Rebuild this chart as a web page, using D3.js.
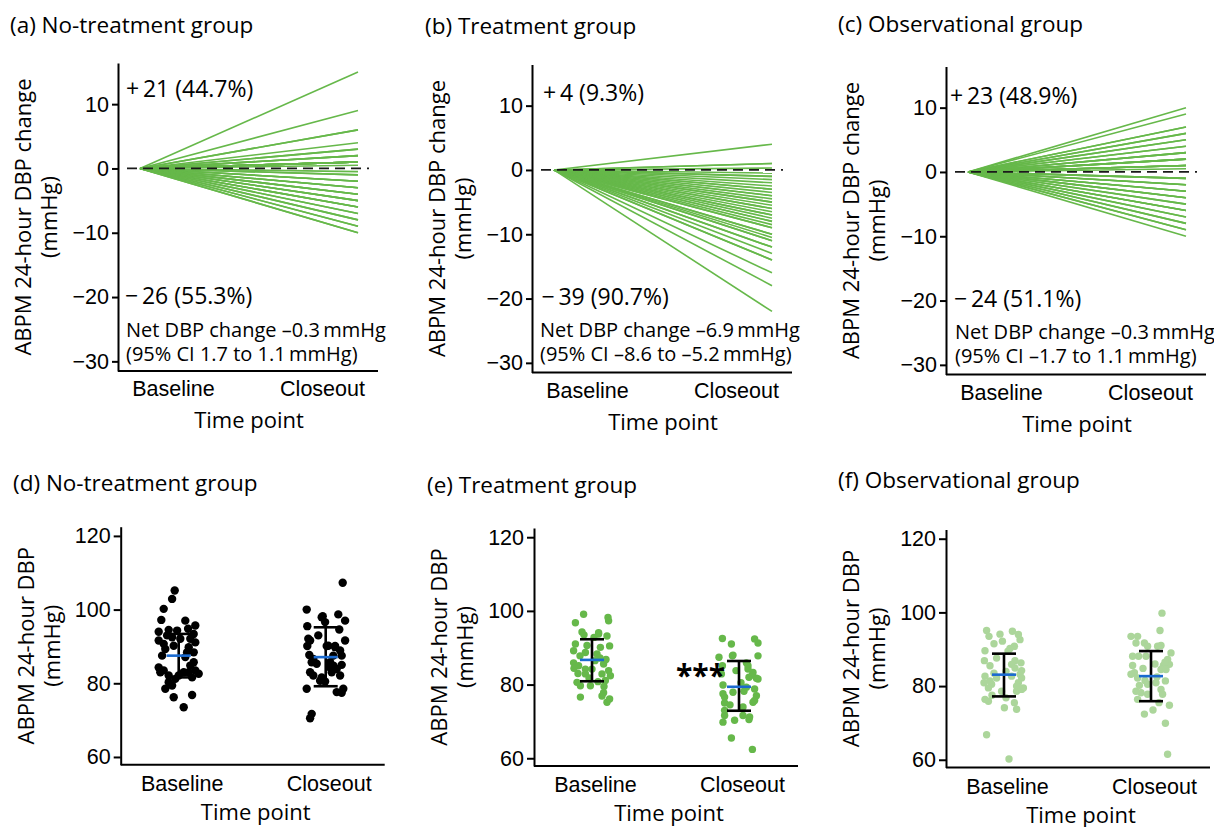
<!DOCTYPE html>
<html>
<head>
<meta charset="utf-8">
<script src="https://cdn.jsdelivr.net/npm/d3@7"></script>
<style>
  body { margin: 0; background: #fff; }
  svg { font-family: "Open Sans", sans-serif; }
</style>
</head>
<body>
<svg width="1214" height="827"></svg>
<script>
// ---- data ----
const timePoints = ["Baseline", "Closeout"];
const changeTicks = [-30, -20, -10, 0, 10];
const dbpTicks = [60, 80, 100, 120];

// (a)-(c): change in 24-hour DBP per patient (mmHg)
const changeNoTreat = [15, 9, 6, 6, 4, 3, 3, 2, 2, 2, 1, 1, 1, 1, 1, 1, 1, 1, 1, 1, 0.5,
  -0.5, -1, -1, -2, -2, -2, -3, -3, -3, -4, -4, -4, -5, -5, -5, -6, -6, -6, -7, -7, -8, -8, -9, -9, -10, -10];
const changeTreat = [4, 1, 1, 0.3,
  -0.5, -1, -1, -1.5, -2, -2.5, -3, -3, -3.5, -4, -4, -4.5, -5, -5, -5.5, -6, -6, -6.5, -7, -7,
  -7.5, -8, -8, -8.5, -9, -9, -10, -10, -10.5, -11, -11, -12, -12, -13, -14, -14, -16, -18, -22];
const changeObs = [10, 9, 7, 7, 6, 6, 5, 5, 4, 4, 3, 3, 3, 2, 2, 2, 2, 1, 1, 1, 1, 1, 0.5,
  -1, -1, -1, -2, -2, -2, -3, -3, -3, -4, -4, -4, -5, -5, -6, -6, -6, -7, -7, -8, -8, -9, -9, -10];

// (d)-(f): individual 24-hour DBP (mmHg) and horizontal jitter (-1..1)
const baseNoTreat = [105.2, 102.9, 100.2, 97.2, 97.0, 95.7, 94.0, 94.5, 94.3, 94.8, 93.4, 91.6, 90.7, 92.5, 90.2,
  92.1, 92.1, 91.1, 89.8, 87.5, 87.1, 85.7, 84.3, 83.0, 83.5, 83.5, 82.6, 83.0, 83.0, 81.2, 80.3, 78.5, 79.4,
  76.2, 76.8, 73.5, 82.1, 84.8, 88.4, 88.4, 89.3, 81.6, 82.1, 93.0];
const baseNoTreatJit = [-0.2, -0.33, -0.75, -0.87, 0.33, 0.83, -1, -0.5, -0.08, 0.47, 0.75, -1, -0.75, -0.33, -0.25,
  0.08, 0.58, 0.83, 0.5, -0.83, 0.33, 0.75, -1, -0.92, -0.75, 0.83, 1, 0.5, 0.25, -0.17, -0.5, -0.67, -0.33,
  -0.25, 0.67, 0.25, -0.5, 0.58, 0.42, 0.75, -0.67, 0.67, 0, -0.58];
const closeNoTreat = [107.3, 100.0, 98.2, 98.7, 97.0, 96.6, 95.5, 94.6, 92.1, 91.6, 90.1, 90.1, 90.1, 88.9, 87.7,
  87.5, 87.5, 85.7, 85.3, 85.7, 85.0, 83.0, 82.1, 83.0, 82.1, 80.7, 80.5, 78.5, 77.6, 78.5, 77.4, 71.7, 70.5,
  84.3, 83.9, 81.6, 86.6, 93.0, 84.8, 97.9, 91.6, 89.8, 90.2];
const closeNoTreatJit = [0.85, -0.95, -0.15, 0.63, 0.97, -0.03, -0.92, 0.68, -0.87, 0.97, -0.92, 0.05, 0.47, 0.72, -0.82,
  0.38, 0.8, -0.7, -0.45, 0.22, 0.8, -0.78, -0.62, 0.3, 0.72, -0.28, -0.03, -0.95, 0.55, 0.88, 0.8, -0.7, -0.78,
  0.22, 0.55, -0.2, -0.62, -0.37, 0.38, -0.2, -0.78, 0.47, 0.13];

const baseTreat = [99.1, 96.8, 98.2, 97.3, 94.3, 93.7, 93.2, 91.0, 90.5, 90.1, 89.2, 88.7, 88.3, 85.9, 85.1,
  85.6, 84.2, 83.8, 82.4, 82.9, 82.9, 80.6, 79.7, 79.7, 81.1, 77.8, 76.6, 75.2, 76.1,
  90.6, 84.2, 94.1, 86.5, 81.8, 87.2, 87.8, 79.5, 93.5, 92.8, 86.8, 83.0, 76.9, 84.4, 80.8];
const baseTreatJit = [-0.42, -0.83, 0.8, 0.83, -0.5, 0.33, 0.75, -0.83, 0.88, 0.42, -0.92, -0.33, 0.25, -0.92, -0.67,
  0.58, -0.33, 0.83, 0.92, 0.5, -0.33, -0.75, -0.58, -0.08, 0.67, 0.58, -0.58, 0.75, 0.88,
  -0.25, 0, 0.33, 0.15, -0.15, 0.4, -0.6, 0.6, -0.4, 0.1, 0.7, -0.7, 0.5, -0.9, 0.3];
const closeTreat = [92.5, 91.0, 92.4, 91.3, 87.4, 87.8, 87.8, 85.9, 85.1, 84.2, 82.6, 81.7, 82.0, 79.9, 77.9,
  79.3, 78.8, 77.0, 76.6, 75.0, 75.2, 73.9, 71.6, 69.8, 70.3, 71.6, 70.5, 65.5, 62.4,
  82.9, 77.5, 83.3, 81.5, 75.7, 73.0, 71.2, 88.0, 85.1, 80.5, 83.8, 78.2, 74.5];
const closeTreatJit = [-0.83, -0.38, 0.78, 0.95, -1, -0.33, 0.95, 0.37, -0.83, 0.45, 0.67, 0.87, 0.5, -0.8, -0.3,
  0.37, 0.78, 0.87, -0.72, -0.72, 0.7, 0.2, -0.72, -0.8, -0.22, 0.2, 0.5, -0.38, 0.67,
  -0.88, -0.8, 0.7, 0.95, 0.78, -0.72, 0.53, -0.3, 0.45, 0.1, -0.15, 0.25, -0.45];

const baseObs = [95.1, 93.5, 94.1, 94.9, 92.2, 92.6, 90.8, 90.2, 89.6, 86.9, 87.6, 86.9, 86.3, 85.9, 84.2,
  82.7, 82.2, 82.7, 82.2, 80.9, 80.5, 80.9, 79.5, 78.6, 79.5, 75.9, 76.4, 75.5, 74.1, 73.7, 66.8, 60.2,
  91.5, 94.0, 89.5, 85.5, 84.9, 83.5, 83.2, 81.4, 80.0, 79.1, 78.6, 77.5, 76.8, 84.0];
const baseObsJit = [-0.87, -0.75, -0.2, 0.42, -0.08, 0.8, 0.52, 0.3, -0.95, -0.98, -0.37, 0.55, 0.85, 0.38, 0.88,
  -0.95, -0.37, 0.38, 0.88, -1, -0.62, 0.72, 0.97, 0.63, -0.78, -0.78, -0.95, 0.52, 0.02, 0.63, -0.87, 0.25,
  -0.5, 0.72, 0.2, -0.7, 0.55, -0.5, 0.8, -0.7, 0.63, 0.88, -0.12, -0.6, 0.1, 0.1];
const closeObs = [99.8, 95.1, 93.5, 91.7, 90.8, 91.0, 88.1, 88.1, 88.1, 89.0, 87.2, 85.6, 85.6, 85.9, 83.6,
  82.2, 84.5, 81.4, 80.2, 80.5, 79.1, 78.2, 77.8, 77.8, 76.4, 74.8, 72.4, 69.9, 61.5,
  93.5, 91.7, 90.8, 86.5, 84.8, 84.5, 83.2, 81.5, 80.9, 78.6, 75.5, 73.5, 86.0, 82.5];
const closeObsJit = [0.55, 0.45, -0.67, -0.33, -0.17, 0.5, -0.92, -0.62, -0.25, 1, 0.83, -0.92, 0.62, 0.92, -0.83,
  -0.67, 0.5, 0.72, -0.58, -0.17, 0.5, -0.5, -0.17, 0.58, -0.67, 0.92, -0.33, 0.72, 0.83,
  -1, -0.75, 0.33, 0.7, -0.4, 0.75, -1, -0.3, 0.25, -0.75, 0.4, 0.1, 0.2, 0.3];

// mean and 95% CI limits per time point [Baseline, Closeout]
const meanNoTreat = [87.5, 87.1], loNoTreat = [81.6, 79.2], hiNoTreat = [93.4, 95.2];
const meanTreat = [86.7, 79.4], loTreat = [80.9, 72.9], hiTreat = [92.3, 86.4];
const meanObs = [83.1, 82.7], loObs = [77.2, 75.9], hiObs = [88.8, 89.5];

// ---- drawing ----
const svg = d3.select("svg");
const green = "#66b84a";
const lightGreen = "#acd69b";
const blue = "#1a6ad0";
const minus = d => d < 0 ? "\u2212" + Math.abs(d) : String(d);
const fs = 21.5; // base font size

function styleAxis(a) {
  a.selectAll("path").attr("stroke", "#000").attr("stroke-width", 2);
  a.selectAll("line").attr("stroke", "#000").attr("stroke-width", 2);
  a.selectAll("text").attr("font-size", fs).attr("fill", "#000").attr("font-family", null);
}

function yLabel(g, h, line1) {
  const t = g.append("text")
    .attr("transform", `translate(0,${h / 2}) rotate(-90)`)
    .attr("text-anchor", "middle").attr("font-size", 22);
  t.append("tspan").attr("x", 0).attr("y", -87).text(line1);
  t.append("tspan").attr("x", 0).attr("y", -61).text("(mmHg)");
}

function title(x, y, s) {
  svg.append("text").attr("x", x).attr("y", y).attr("font-size", 22.5).text(s);
}

function drawChange(cfg) {
  const h = 308;
  const g = svg.append("g").attr("transform", `translate(${cfg.x},${cfg.y})`);
  const y = d3.scaleLinear().domain([-31.5, 16.4]).range([h, 0]);
  const t = d3.scaleLinear().domain([0, 1]).range([22, 240]);
  const xLab = d3.scalePoint().domain(timePoints).range([55, 204]);

  g.append("g").selectAll("line").data(cfg.values).join("line")
    .attr("x1", t(0)).attr("y1", y(0))
    .attr("x2", t(1)).attr("y2", d => y(d))
    .attr("stroke", green).attr("stroke-width", 1.6);

  g.append("line")
    .attr("x1", 9).attr("x2", 251).attr("y1", y(0)).attr("y2", y(0))
    .attr("stroke", "#1a1a1a").attr("stroke-width", 1.8).attr("stroke-dasharray", "10,6");

  const ya = g.append("g")
    .call(d3.axisLeft(y).tickValues(changeTicks).tickSize(6).tickSizeOuter(0).tickPadding(3).tickFormat(minus));
  styleAxis(ya);

  const xa = g.append("g").attr("transform", `translate(0,${h})`)
    .call(d3.axisBottom(xLab).tickSize(0).tickPadding(10));
  styleAxis(xa);
  xa.select(".domain").remove();
  g.append("line").attr("x1", 0).attr("x2", 260).attr("y1", h).attr("y2", h)
    .attr("stroke", "#000").attr("stroke-width", 2);

  g.append("text").attr("x", 131).attr("y", h + 57).attr("text-anchor", "middle")
    .attr("font-size", 22).text("Time point");
  yLabel(g, h, "ABPM 24-hour DBP change");

  g.append("text").attr("x", cfg.up[0]).attr("y", cfg.up[1]).attr("font-size", 23).text(cfg.upText);
  g.append("text").attr("x", cfg.down[0]).attr("y", cfg.down[1]).attr("font-size", 23).text(cfg.downText);
  // net change note, two lines in one text block
  const note = g.append("text").attr("font-size", 20);
  note.append("tspan").attr("x", cfg.net[0]).attr("y", cfg.net[1]).text(cfg.netText);
  note.append("tspan").attr("x", cfg.net[0]).attr("y", cfg.net[1] + 24).text(cfg.ciText);
}

function drawDots(cfg) {
  const h = 238;
  const g = svg.append("g").attr("transform", `translate(${cfg.x},${cfg.y})`);
  const y = d3.scaleLinear().domain([57.9, 122.5]).range([h, 0]);
  const x = d3.scalePoint().domain(timePoints).range([58, 205]);
  const jit = d3.scaleLinear().domain([-1, 1]).range([-20, 20]);

  cfg.groups.forEach((grp, i) => {
    g.append("g").selectAll("circle").data(grp.values).join("circle")
      .attr("cx", (d, j) => x(timePoints[i]) + jit(grp.jitter[j]))
      .attr("cy", d => y(d))
      .attr("r", cfg.r).attr("fill", cfg.color);
  });

  const bars = timePoints.map((tp, i) => ({ tp, mean: cfg.mean[i], lo: cfg.lo[i], hi: cfg.hi[i] }));
  const eb = g.append("g").selectAll("g").data(bars).join("g")
    .attr("transform", d => `translate(${x(d.tp)},0)`);
  eb.append("line").attr("y1", d => y(d.lo)).attr("y2", d => y(d.hi))
    .attr("stroke", "#000").attr("stroke-width", 2.6);
  eb.selectAll(".cap").data(d => [d.lo, d.hi]).join("line")
    .attr("x1", -12).attr("x2", 12).attr("y1", d => y(d)).attr("y2", d => y(d))
    .attr("stroke", "#000").attr("stroke-width", 2.6);
  eb.append("line").attr("x1", -12).attr("x2", 12)
    .attr("y1", d => y(d.mean)).attr("y2", d => y(d.mean))
    .attr("stroke", blue).attr("stroke-width", 2.6);

  const ya = g.append("g")
    .call(d3.axisLeft(y).tickValues(dbpTicks).tickSize(7).tickSizeOuter(0).tickPadding(3));
  styleAxis(ya);

  const xa = g.append("g").attr("transform", `translate(0,${h})`)
    .call(d3.axisBottom(x).tickSize(0).tickPadding(11));
  styleAxis(xa);
  xa.select(".domain").remove();
  xa.selectAll("text").attr("dx", 3);
  g.append("line").attr("x1", 0).attr("x2", 264).attr("y1", h).attr("y2", h)
    .attr("stroke", "#000").attr("stroke-width", 2);

  g.append("text").attr("x", 135).attr("y", h + 55).attr("text-anchor", "middle")
    .attr("font-size", 22).text("Time point");
  yLabel(g, h, "ABPM 24-hour DBP");

  if (cfg.stars) {
    g.append("text").attr("x", x("Closeout") - 14).attr("y", y(cfg.stars) + 14)
      .attr("text-anchor", "end").attr("font-size", 30).attr("font-weight", "bold").text("***");
  }
}

// top row
title(10, 33, "(a) No-treatment group");
title(425, 34, "(b) Treatment group");
title(838, 32, "(c) Observational group");

drawChange({
  x: 118, y: 63, values: changeNoTreat,
  up: [8, 34], upText: "+\u200921 (44.7%)",
  down: [7, 241], downText: "\u2212\u200926 (55.3%)",
  net: [8, 274], netText: "Net DBP change \u20130.3\u2009mmHg", ciText: "(95% CI 1.7 to 1.1\u2009mmHg)"
});
drawChange({
  x: 532, y: 64.5, values: changeTreat,
  up: [11, 36], upText: "+\u20094 (9.3%)",
  down: [9.5, 240], downText: "\u2212\u200939 (90.7%)",
  net: [8, 272.5], netText: "Net DBP change \u20136.9\u2009mmHg", ciText: "(95% CI \u20138.6 to \u20135.2\u2009mmHg)"
});
drawChange({
  x: 946, y: 66.5, values: changeObs,
  up: [4, 37], upText: "+\u200923 (48.9%)",
  down: [8, 240], downText: "\u2212\u200924 (51.1%)",
  net: [9, 272.5], netText: "Net DBP change \u20130.3\u2009mmHg", ciText: "(95% CI \u20131.7 to 1.1\u2009mmHg)"
});

// bottom row
title(13, 491, "(d) No-treatment group");
title(427, 493, "(e) Treatment group");
title(838, 488, "(f) Observational group");

drawDots({
  x: 120.7, y: 526.7, color: "#000", r: 4.2,
  groups: [{ values: baseNoTreat, jitter: baseNoTreatJit }, { values: closeNoTreat, jitter: closeNoTreatJit }],
  mean: meanNoTreat, lo: loNoTreat, hi: hiNoTreat
});
drawDots({
  x: 534, y: 528, color: green, r: 3.7,
  groups: [{ values: baseTreat, jitter: baseTreatJit }, { values: closeTreat, jitter: closeTreatJit }],
  mean: meanTreat, lo: loTreat, hi: hiTreat, stars: 83.5
});
drawDots({
  x: 946, y: 529.5, color: lightGreen, r: 3.7,
  groups: [{ values: baseObs, jitter: baseObsJit }, { values: closeObs, jitter: closeObsJit }],
  mean: meanObs, lo: loObs, hi: hiObs
});
</script>
</body>
</html>
